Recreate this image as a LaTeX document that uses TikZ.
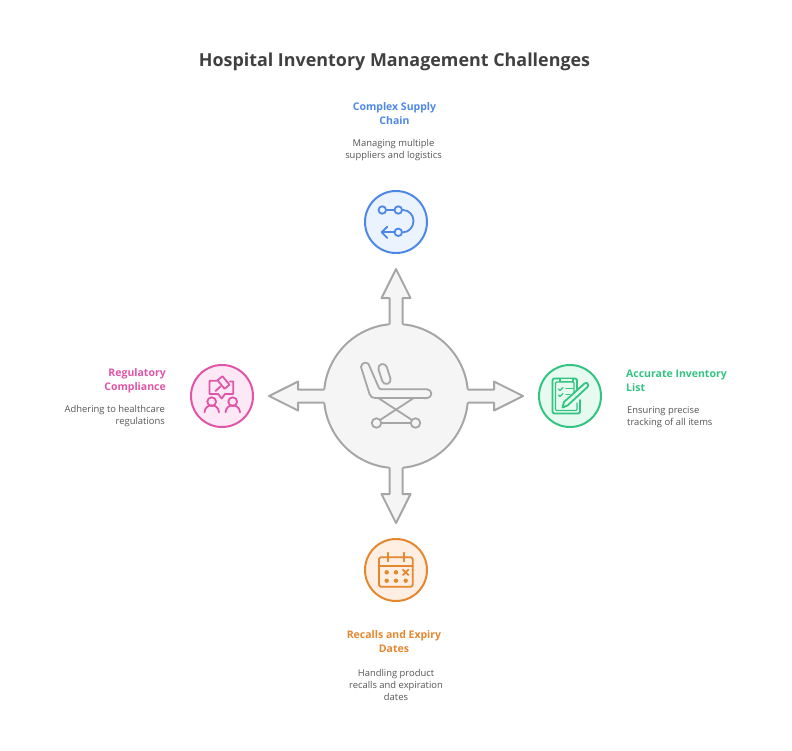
\documentclass[tikz,border=0pt]{standalone}
\usepackage{fontspec}
\setmainfont{Open Sans}
\definecolor{hubgray}{HTML}{A6A6A6}
\definecolor{hubfill}{HTML}{F5F5F5}
\definecolor{titlegray}{HTML}{404040}
\definecolor{descgray}{HTML}{555555}
\definecolor{supplyblue}{HTML}{4E88E7}
\definecolor{supplyfill}{HTML}{EBF3FF}
\definecolor{rulepink}{HTML}{E055A7}
\definecolor{rulefill}{HTML}{FDE9F6}
\definecolor{listgreen}{HTML}{33C481}
\definecolor{listfill}{HTML}{E6FAF0}
\definecolor{dateorange}{HTML}{E5872F}
\definecolor{datefill}{HTML}{FEEFE2}
\tikzset{
  badge/.style={circle,draw=#1,line width=2pt,minimum size=62pt,inner sep=0pt},
  icon/.style={draw=#1,line width=1.8pt,line cap=round,line join=round},
  thinicon/.style={draw=#1,line width=1.3pt,line cap=round,line join=round},
  head/.style={font=\bfseries\fontsize{10.5}{14}\selectfont,text=#1,inner sep=0pt},
  desc/.style={font=\fontsize{9.4}{12}\selectfont,text=descgray,inner sep=0pt},
}
\begin{document}
\begin{tikzpicture}[x=1pt,y=-1pt]
  \useasboundingbox (0,0) rectangle (792,750);
  \node[font=\bfseries\fontsize{17.9}{22}\selectfont,text=titlegray,inner sep=0pt] (title) at (394.5,62) {Hospital Inventory Management Challenges};

  % hub with the four arrows
  \node[circle,draw=hubgray,fill=hubfill,line width=2pt,minimum size=144pt,inner sep=0pt] (hub) at (396,396) {};
  \foreach \ang in {0,90,180,270} {
    \begin{scope}[shift={(396,396)},rotate=\ang]
      \fill[hubfill] (68,-6.5) -- (98,-6.5) -- (98,-14.5) -- (127,0) -- (98,14.5) -- (98,6.5) -- (68,6.5) -- cycle;
      \draw[hubgray,line width=2pt,line join=round] (71.7,-6.5) -- (98,-6.5) -- (98,-14.5) -- (127,0) -- (98,14.5) -- (98,6.5) -- (71.7,6.5);
    \end{scope}
  }

  % stretcher
  \draw[icon=hubgray] (361,367) arc (180:360:4.4) -- (378.5,387) .. controls (379.5,389) and (380,389.3) .. (382,389.3) -- (427,389.3) arc (-90:90:4.4) -- (375,398) .. controls (372,398) and (370.5,396.5) .. (369.5,394) -- cycle;
  \draw[icon=hubgray,rotate around={18:(384.5,374)}] (380.2,368) arc (180:360:4.3) -- (388.8,380) arc (0:180:4.3) -- cycle;
  \draw[icon=hubgray] (379,398.5) -- (412,420);
  \draw[icon=hubgray] (413,398.5) -- (380,420);
  \node[circle,draw=hubgray,line width=1.8pt,minimum size=9.5pt,inner sep=0pt] (wheelL) at (376.5,423) {};
  \node[circle,draw=hubgray,line width=1.8pt,minimum size=9.5pt,inner sep=0pt] (wheelR) at (415.5,423) {};
  \draw[icon=hubgray] (wheelL) -- (wheelR);

  % top
  \node[badge=supplyblue,fill=supplyfill] (supply) at (396,222) {};
  \node[circle,icon=supplyblue,minimum size=7.5pt,inner sep=0pt] (s1) at (382.3,210) {};
  \node[circle,icon=supplyblue,minimum size=7.5pt,inner sep=0pt] (s2) at (398.3,210) {};
  \node[circle,icon=supplyblue,minimum size=7.5pt,inner sep=0pt] (s3) at (398.3,232.3) {};
  \coordinate (s4) at (381.7,232.3);
  \draw[icon=supplyblue] (s1) -- (s2);
  \draw[icon=supplyblue] (s2) -- (403,210) .. controls (409,210) and (413.5,215) .. (413.5,221) .. controls (413.5,227) and (409,232.3) .. (s3);
  \draw[icon=supplyblue] (s3) -- (s4);
  \draw[icon=supplyblue] (387.3,226.7) -- (s4) -- (387.3,238);
  \node[head=supplyblue,align=center] (supplyhead) at (394.5,114) {Complex Supply\\Chain};
  \node[desc,align=center] (supplydesc) at (393.5,150) {Managing multiple\\suppliers and logistics};

  % left
  \node[badge=rulepink,fill=rulefill] (rule) at (222,396) {};
  \draw[icon=rulepink] (216.5,380.7) -- (209.5,380.7) -- (209.5,394) -- (218,394) -- (221.7,398.5) -- (225,394) -- (233.3,394) -- (233.3,381.5) -- (230,381.5);
  \draw[icon=rulepink,rotate around={40:(223.5,382.5)}] (220.3,377) rectangle (226.7,388);
  \draw[icon=rulepink] (220.5,386.5) -- (215.5,391);
  \draw[icon=rulepink] (211.7,401.7) circle (4.4);
  \draw[icon=rulepink] (232.7,401.7) circle (4.4);
  \draw[icon=rulepink] (204.5,412.3) .. controls (205,403) and (218.5,403) .. (219,412.3);
  \draw[icon=rulepink] (225.5,412.3) .. controls (226,403) and (239.5,403) .. (240,412.3);
  \node[head=rulepink,align=right,anchor=east] (rulehead) at (166,381) {Regulatory\\Compliance};
  \node[desc,align=right,anchor=east] (ruledesc) at (165,416.5) {Adhering to healthcare\\regulations};

  % right
  \node[badge=listgreen,fill=listfill] (list) at (570,396) {};
  \draw[icon=listgreen,rounded corners=1.5pt] (577,391) -- (577,378.5) -- (552.5,378.5) -- (552.5,413.5) -- (580,413.5) -- (580,400);
  \draw[thinicon=listgreen,rounded corners=1pt] (574,397) -- (574,382) -- (555.5,382) -- (555.5,410.5) -- (577,410.5) -- (577,403);
  \draw[icon=listgreen,fill=listfill] (560,378.5) -- (560,381.5) -- (573,381.5) -- (573,378.5);
  \draw[thinicon=listgreen] (558.5,389) -- (560,390.5) -- (563,387.5);
  \draw[thinicon=listgreen] (558.5,395) -- (560,396.5) -- (563,393.5);
  \draw[thinicon=listgreen] (566,388.5) -- (573,388.5);
  \draw[thinicon=listgreen] (566,394.5) -- (570,394.5);
  \draw[icon=listgreen,fill=listfill] (564,402) -- (584.5,383.5) .. controls (586,382) and (588,383) .. (588,384.5) .. controls (588.5,385.5) and (588,386.5) .. (587,387.5) -- (567.5,405.5) -- (562.5,407.5) -- cycle;
  \node[head=listgreen,align=left,anchor=west] (listhead) at (626,381) {Accurate Inventory\\List};
  \node[desc,align=left,anchor=west] (listdesc) at (627,417) {Ensuring precise\\tracking of all items};

  % bottom
  \node[badge=dateorange,fill=datefill] (date) at (396,570) {};
  \draw[icon=dateorange,rounded corners=1.5pt] (379,557.3) rectangle (412.7,586.7);
  \draw[icon=dateorange] (379,566) -- (412.7,566);
  \draw[icon=dateorange] (388.3,552.7) -- (388.3,561.3);
  \draw[icon=dateorange] (404,552.7) -- (404,561.3);
  \foreach \px/\py in {386.7/572.3,396/572.3,386.7/580.7,396/580.7,405.7/580.7}
    \fill[dateorange] (\px,\py) circle (2.2);
  \draw[icon=dateorange] (403,569.8) -- (408.4,575);
  \draw[icon=dateorange] (408.4,569.8) -- (403,575);
  \node[head=dateorange,align=center] (datehead) at (394,641.5) {Recalls and Expiry\\Dates};
  \node[desc,align=center] (datedesc) at (396,684.5) {Handling product\\recalls and expiration\\dates};
\end{tikzpicture}
\end{document}
